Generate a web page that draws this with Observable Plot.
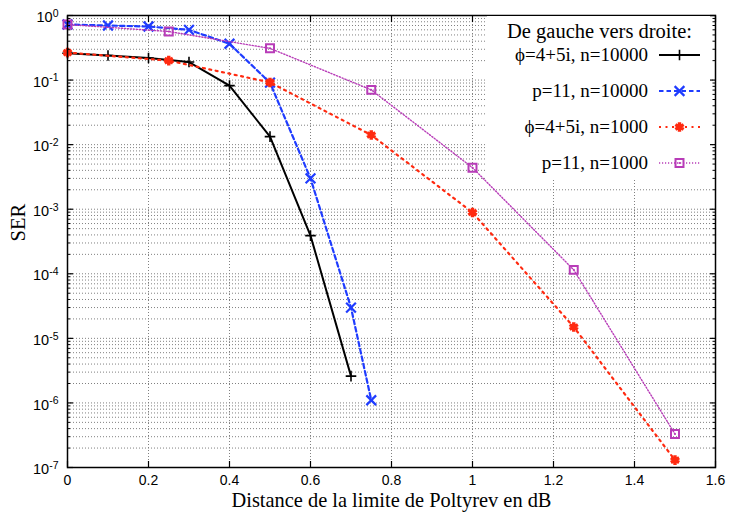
<!DOCTYPE html>
<html><head><meta charset="utf-8">
<script src="https://cdn.jsdelivr.net/npm/d3@7"></script>
<script src="https://cdn.jsdelivr.net/npm/@observablehq/plot@0.6"></script>
<style>
body{margin:0;background:#fff}
#wrap{position:relative;width:730px;height:515px;overflow:hidden}
#legend{position:absolute;left:487px;top:16px}
</style></head><body><div id="wrap"></div>
<script>
// ---- data ----
const seriesNames = ["ϕ=4+5i, n=10000", "p=11, n=10000", "ϕ=4+5i, n=1000", "p=11, n=1000"];
const legendTitle = "De gauche vers droite:";
const xPhi10000 = [0, 0.1, 0.2, 0.3, 0.4, 0.5, 0.6, 0.7];
const yPhi10000 = [0.26, 0.24, 0.22, 0.19, 0.082, 0.0133, 3.9e-4, 2.6e-6];
const xP10000 = [0, 0.1, 0.2, 0.3, 0.4, 0.5, 0.6, 0.7, 0.75];
const yP10000 = [0.725, 0.70, 0.675, 0.60, 0.365, 0.091, 3.0e-3, 3.0e-5, 1.1e-6];
const xPhi1000 = [0, 0.25, 0.5, 0.75, 1.0, 1.25, 1.5];
const yPhi1000 = [0.267, 0.20, 0.092, 0.0141, 8.9e-4, 1.5e-5, 1.3e-7];
const xP1000 = [0, 0.25, 0.5, 0.75, 1.0, 1.25, 1.5];
const yP1000 = [0.725, 0.565, 0.31, 0.0705, 4.4e-3, 1.15e-4, 3.3e-7];
const xTicks = [0, 0.2, 0.4, 0.6, 0.8, 1.0, 1.2, 1.4, 1.6];
const yExponents = [-7, -6, -5, -4, -3, -2, -1, 0];
const xLabel = "Distance de la limite de Poltyrev en dB";
const yLabel = "SER";

// ---- build ----
const xs = [xPhi10000, xP10000, xPhi1000, xP1000];
const ys = [yPhi10000, yP10000, yPhi1000, yP1000];
const rows = [];
seriesNames.forEach((s, i) => xs[i].forEach((x, j) => rows.push({series: s, x, y: ys[i][j]})));

const styles = [
  {stroke: "#000000", width: 2, dash: null, symbol: "plus", r: 3.5, sw: 1.6},
  {stroke: "#1f3cff", width: 2.2, dash: "4.5,3", symbol: "times", r: 4.5, sw: 2.2},
  {stroke: "#ff2a10", width: 2.2, dash: "2,4.5", symbol: "asterisk", r: 4.5, sw: 3.4},
  {stroke: "#b83cb8", width: 1.4, dash: "1.2,1.8", symbol: "square", r: 4.5, sw: 2}
];

const yMajor = yExponents.map(e => Math.pow(10, e));
const yMinor = [];
yExponents.slice(0, -1).forEach(e => { for (let k = 2; k <= 9; k++) yMinor.push(k * Math.pow(10, e)); });
const yGrid = yMajor.concat(yMinor);
const xGrid = xTicks.slice(1, -1);
const gridStyle = {stroke: "#808080", strokeOpacity: 1, strokeDasharray: "1,2", strokeWidth: 1};

const seriesMarks = [];
seriesNames.forEach((s, i) => {
  const st = styles[i];
  const d = rows.filter(r => r.series === s);
  seriesMarks.push(Plot.line(d, {x: "x", y: "y", stroke: st.stroke, strokeWidth: st.width, strokeDasharray: st.dash}));
  seriesMarks.push(Plot.dot(d, {x: "x", y: "y", symbol: st.symbol, r: st.r, stroke: st.stroke, strokeWidth: st.sw, fill: "none"}));
  if (st.symbol === "square") seriesMarks.push(Plot.dot(d, {x: "x", y: "y", r: 1, fill: st.stroke}));
});

const serif = "'Liberation Serif', 'Times New Roman', serif";
const fmtX = d => String(+d.toFixed(1));
const chart = Plot.plot({
  width: 730, height: 515,
  marginLeft: 67, marginRight: 15, marginTop: 15, marginBottom: 48,
  style: {fontFamily: "'Liberation Sans', Arial, sans-serif", fontSize: "14px", background: "#fff"},
  x: {domain: [0, 1.6]},
  y: {type: "log", domain: [1e-7, 1]},
  marks: [
    Plot.gridX({ticks: xGrid, ...gridStyle}),
    Plot.gridY({ticks: yGrid, ...gridStyle}),
    ...seriesMarks,
    Plot.axisX({ticks: xTicks, tickSize: 0, tickPadding: 8, tickFormat: fmtX, fontSize: 14, label: null}),
    Plot.axisX({ticks: xTicks, anchor: "bottom", tickSize: 6, dy: -6, tickFormat: () => "", label: null, strokeWidth: 1.2}),
    Plot.axisX({ticks: xTicks, anchor: "top", tickSize: 6, dy: 6, tickFormat: () => "", label: null, strokeWidth: 1.2}),
    Plot.axisY({ticks: yMajor, tickSize: 0, tickPadding: 9, dy: 2, fontSize: 14.5, tickFormat: d => "10^" + Math.round(Math.log10(d)), label: null}),
    Plot.axisY({ticks: yMajor, anchor: "left", tickSize: 6, dx: 6, tickFormat: () => "", label: null, strokeWidth: 1.2}),
    Plot.axisY({ticks: yMinor, anchor: "left", tickSize: 3, dx: 3, tickFormat: () => "", label: null}),
    Plot.axisY({ticks: yMajor, anchor: "right", tickSize: 6, dx: -6, tickFormat: () => "", label: null, strokeWidth: 1.2}),
    Plot.axisY({ticks: yMinor, anchor: "right", tickSize: 3, dx: -3, tickFormat: () => "", label: null}),
    Plot.frame({stroke: "#000", strokeWidth: 1.5}),
    Plot.text([xLabel], {frameAnchor: "bottom", lineAnchor: "middle", dy: 33, fontSize: 20.4, fontFamily: serif, fill: "#000"}),
    Plot.text([yLabel], {frameAnchor: "left", lineAnchor: "middle", dx: -49, rotate: -90, fontSize: 20.5, fontFamily: serif, fill: "#000"})
  ]
});

// superscript exponents on y tick labels
chart.querySelectorAll('g[aria-label="y-axis tick label"] text').forEach(t => {
  const parts = t.textContent.split("^");
  if (parts.length !== 2) return;
  t.textContent = parts[0];
  const ts = document.createElementNS("http://www.w3.org/2000/svg", "tspan");
  ts.setAttribute("dy", "-0.5em");
  ts.setAttribute("font-size", "10.5");
  ts.textContent = parts[1];
  t.appendChild(ts);
});

const wrap = document.getElementById("wrap");
wrap.appendChild(chart);

// legend (gnuplot-style key, white background, no border)
const lg = d3.select(wrap).append("svg").attr("id", "legend").attr("width", 223).attr("height", 163);
lg.append("rect").attr("width", 223).attr("height", 163).attr("fill", "#fff");
lg.append("text").attr("x", 205).attr("y", 22).attr("text-anchor", "end")
  .attr("font-family", serif).attr("font-size", 20.5).text(legendTitle);
const rowY = [39, 75, 111, 147];
const symMap = {plus: d3.symbolPlus, times: d3.symbolTimes, asterisk: d3.symbolAsterisk, square: d3.symbolSquare};
seriesNames.forEach((s, i) => {
  const st = styles[i];
  const y = rowY[i];
  lg.append("text").attr("x", 161).attr("y", y + 6).attr("text-anchor", "end")
    .attr("font-family", serif).attr("font-size", 19).text(s);
  lg.append("line").attr("x1", 172).attr("x2", 213).attr("y1", y).attr("y2", y)
    .attr("stroke", st.stroke).attr("stroke-width", st.width).attr("stroke-dasharray", st.dash);
  const area = st.r * st.r * Math.PI;
  lg.append("path").attr("transform", `translate(192.5,${y})`)
    .attr("d", d3.symbol(symMap[st.symbol], area)())
    .attr("fill", "none").attr("stroke", st.stroke).attr("stroke-width", st.sw);
  if (st.symbol === "square") lg.append("circle").attr("cx", 192.5).attr("cy", y).attr("r", 1).attr("fill", st.stroke);
});
</script>
</body></html>
